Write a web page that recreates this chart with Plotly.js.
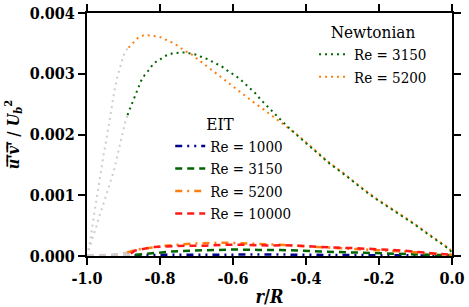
<!DOCTYPE html>
<html>
<head>
<meta charset="utf-8">
<script src="https://cdn.plot.ly/plotly-3.0.1.min.js"></script>
<style>html,body{margin:0;padding:0;background:#fff;}#chart{width:469px;height:307px;}</style>
</head>
<body>
<div id="chart"></div>
<script>
// ---- Data ----
const newt5200WallR  = [-1.0, -0.996, -0.99, -0.984, -0.978, -0.972, -0.966, -0.96, -0.954, -0.948, -0.942, -0.936, -0.93, -0.924, -0.918, -0.912, -0.906, -0.9, -0.894, -0.886];
const newt5200WallUV = [0, 0.00013, 0.00028, 0.00055, 0.00078, 0.00104, 0.00127, 0.00149, 0.00169, 0.00188, 0.0021, 0.00236, 0.00257, 0.00275, 0.00292, 0.00306, 0.00318, 0.0033, 0.00338, 0.00343];
const newt5200R  = [-0.886, -0.872, -0.859, -0.842, -0.822, -0.802, -0.784, -0.765, -0.749, -0.733, -0.714, -0.699, -0.683, -0.667, -0.65, -0.633, -0.618, -0.603, -0.586, -0.571, -0.555, -0.539, -0.522, -0.507, -0.49, -0.475, -0.457, -0.425, -0.396, -0.366, -0.335, -0.301, -0.27, -0.238, -0.206, -0.172, -0.139, -0.105, -0.073, -0.041, -0.007, 0];
const newt5200UV = [0.00343, 0.00352, 0.0036, 0.00364, 0.00363, 0.00361, 0.00356, 0.00351, 0.00345, 0.00338, 0.00332, 0.00325, 0.00318, 0.0031, 0.00302, 0.00295, 0.00288, 0.00281, 0.00273, 0.00266, 0.00259, 0.00251, 0.00244, 0.00237, 0.0023, 0.00222, 0.00215, 0.002, 0.00185, 0.00169, 0.00153, 0.00138, 0.00123, 0.00108, 0.00094, 0.00081, 0.00068, 0.00054, 0.0004, 0.00027, 0.00012, 0.00006];
const newt3150WallR  = [-1.0, -0.994, -0.987, -0.982, -0.975, -0.971, -0.964, -0.957, -0.951, -0.944, -0.934, -0.927, -0.918, -0.914, -0.909, -0.905, -0.9, -0.896, -0.889];
const newt3150WallUV = [0, 0.00013, 0.00024, 0.00035, 0.00047, 0.00057, 0.0007, 0.00082, 0.00093, 0.00105, 0.00125, 0.00139, 0.00161, 0.00174, 0.00185, 0.00197, 0.00208, 0.00219, 0.00232];
const newt3150R  = [-0.889, -0.881, -0.874, -0.866, -0.86, -0.852, -0.842, -0.829, -0.818, -0.799, -0.783, -0.764, -0.744, -0.731, -0.705, -0.687, -0.67, -0.651, -0.633, -0.617, -0.598, -0.582, -0.568, -0.553, -0.539, -0.525, -0.512, -0.498, -0.484, -0.47, -0.454, -0.425, -0.396, -0.366, -0.335, -0.301, -0.27, -0.238, -0.206, -0.172, -0.139, -0.105, -0.073, -0.041, -0.007, 0];
const newt3150UV = [0.00232, 0.00243, 0.00255, 0.00267, 0.00277, 0.00288, 0.00298, 0.00307, 0.00317, 0.00324, 0.0033, 0.00334, 0.00335, 0.00335, 0.00332, 0.00328, 0.00324, 0.00318, 0.00313, 0.00306, 0.00299, 0.00292, 0.00284, 0.00276, 0.00268, 0.00258, 0.0025, 0.00242, 0.00233, 0.00225, 0.00215, 0.00199, 0.00184, 0.00168, 0.00152, 0.00137, 0.00122, 0.00107, 0.00093, 0.0008, 0.00067, 0.00053, 0.00039, 0.00026, 0.00011, 0.00005];
const eit1000WallR  = [-1.0, -0.95, -0.9, -0.87];
const eit1000WallUV = [0, 0.000003, 0.000006, 0.00001];
const eit1000R  = [-0.87, -0.8, -0.7, -0.6, -0.5, -0.4, -0.3, -0.2, -0.1, 0];
const eit1000UV = [0.00001, 0.00002, 0.00002, 0.000025, 0.000025, 0.00002, 0.00002, 0.000015, 0.00001, 0.000005];
const eit3150WallR  = [-1.0, -0.95, -0.9, -0.868];
const eit3150WallUV = [0, 0.000005, 0.00001, 0.00002];
const eit3150R  = [-0.868, -0.822, -0.767, -0.712, -0.658, -0.594, -0.53, -0.47, -0.36, -0.297, -0.224, -0.151, -0.087, 0];
const eit3150UV = [0.00002, 0.00005, 0.000074, 0.00009, 0.0001, 0.000107, 0.0001, 0.0001, 0.000074, 0.000063, 0.00005, 0.000036, 0.00003, 0.00001];
const eit5200WallR  = [-1.0, -0.95, -0.91, -0.89];
const eit5200WallUV = [0, 0.00001, 0.00003, 0.00006];
const eit5200R  = [-0.89, -0.859, -0.831, -0.785, -0.74, -0.694, -0.621, -0.566, -0.493, -0.45, -0.407, -0.361, -0.315, -0.251, -0.196, -0.133, -0.068, 0];
const eit5200UV = [0.00006, 0.00011, 0.00013, 0.00017, 0.00019, 0.00021, 0.00022, 0.00021, 0.00019, 0.00018, 0.00016, 0.000145, 0.000135, 0.00012, 0.00009, 0.000074, 0.000046, 0.00002];
const eit10000WallR  = [-1.0, -0.95, -0.9, -0.88];
const eit10000WallUV = [0, 0.00001, 0.00002, 0.00004];
const eit10000R  = [-0.88, -0.868, -0.822, -0.785, -0.73, -0.676, -0.621, -0.566, -0.494, -0.46, -0.397, -0.33, -0.27, -0.224, -0.133, -0.05, 0];
const eit10000UV = [0.00004, 0.00009, 0.000145, 0.00016, 0.00017, 0.00017, 0.000185, 0.000185, 0.00017, 0.00018, 0.000157, 0.00014, 0.00013, 0.00012, 0.00009, 0.00004, 0.00002];

const newtLabels = ['Re = 3150', 'Re = 5200'];
const eitLabels  = ['Re = 1000', 'Re = 3150', 'Re = 5200', 'Re = 10000'];
const xTickVals  = [-1.0, -0.8, -0.6, -0.4, -0.2, 0.0];
const xTickText  = ['-1.0', '-0.8', '-0.6', '-0.4', '-0.2', '0.0'];
const yTickVals  = [0, 0.001, 0.002, 0.003, 0.004];

const GREY = '#d2cbcb';
const DOT = '2px,4px';
const serif = 'DejaVu Serif Condensed, DejaVu Serif';
const OL = '\u0305'; // combining overline

function wall(x, y, w, dash) {
  return {x: x, y: y, type: 'scatter', mode: 'lines', showlegend: false, hoverinfo: 'skip',
          line: {color: GREY, width: w, dash: dash}};
}

const traces = [
  wall(newt3150WallR, newt3150WallUV, 2, DOT),
  wall(newt5200WallR, newt5200WallUV, 2, DOT),
  wall(eit1000WallR, eit1000WallUV, 2.5, '7px,5px'),
  wall(eit3150WallR, eit3150WallUV, 2.5, '7px,5px'),
  wall(eit5200WallR, eit5200WallUV, 2.5, '7px,5px'),
  wall(eit10000WallR, eit10000WallUV, 2.5, '7px,5px'),
  {x: eit1000R, y: eit1000UV, name: eitLabels[0], legend: 'legend2', type: 'scatter', mode: 'lines',
   line: {color: '#00008b', width: 2.5, dash: '7px,5px,2px,5px,2px,5px'}},
  {x: eit3150R, y: eit3150UV, name: eitLabels[1], legend: 'legend2', type: 'scatter', mode: 'lines',
   line: {color: '#006400', width: 2.5, dash: '7px,5px'}},
  {x: eit5200R, y: eit5200UV, name: eitLabels[2], legend: 'legend2', type: 'scatter', mode: 'lines',
   line: {color: '#ff7f0e', width: 2.5, dash: '7px,5px,2px,5px'}},
  {x: eit10000R, y: eit10000UV, name: eitLabels[3], legend: 'legend2', type: 'scatter', mode: 'lines',
   line: {color: '#ff1a1a', width: 2.5, dash: '7px,5px'}},
  {x: newt5200R, y: newt5200UV, name: newtLabels[1], legend: 'legend', legendrank: 2, type: 'scatter', mode: 'lines',
   line: {color: '#ff7f0e', width: 2, dash: DOT}},
  {x: newt3150R, y: newt3150UV, name: newtLabels[0], legend: 'legend', legendrank: 1, type: 'scatter', mode: 'lines',
   line: {color: '#006400', width: 2, dash: DOT}}
];

const axisCommon = {
  showgrid: false, zeroline: false, showline: true, linecolor: '#000', linewidth: 2,
  mirror: 'ticks', ticks: 'outside', ticklen: 7, tickwidth: 2, tickcolor: '#000',
  tickfont: {family: serif, size: 16, color: '#000', weight: 'bold'}
};

const layout = {
  width: 469, height: 307,
  margin: {l: 87, r: 17, t: 13, b: 51},
  paper_bgcolor: '#fff', plot_bgcolor: '#fff',
  font: {family: serif, color: '#000'},
  showlegend: true,
  xaxis: Object.assign({}, axisCommon, {
    range: [-1, 0], tickvals: xTickVals, ticktext: xTickText,
    title: {text: '<b><i>r</i>/<i>R</i></b>', font: {family: serif, size: 18, color: '#000'}, standoff: 3}
  }),
  yaxis: Object.assign({}, axisCommon, {
    range: [0, 0.004], tickvals: yTickVals, tickformat: '.3f',
    title: {text: '<b><i>u' + OL + "'" + OL + 'v' + OL + "'" + OL + '</i> / <i>U</i><sub><i>b</i></sub><sup>2</sup></b>',
            font: {family: serif, size: 16, color: '#000'}, standoff: 6}
  }),
  legend: {
    x: 0.622, xanchor: 'left', y: 0.988, yanchor: 'top', bgcolor: 'rgba(0,0,0,0)',
    font: {family: serif, size: 15, color: '#000'},
    title: {text: 'Newtonian', side: 'top center', font: {family: serif, size: 17, color: '#000'}},
    traceorder: 'normal'
  },
  legend2: {
    x: 0.228, xanchor: 'left', y: 0.611, yanchor: 'top', bgcolor: 'rgba(0,0,0,0)',
    font: {family: serif, size: 15, color: '#000'},
    title: {text: '\u00a0\u00a0\u00a0\u00a0\u00a0\u00a0\u00a0EIT', side: 'top', font: {family: serif, size: 17, color: '#000'}},
    traceorder: 'normal'
  }
};

Plotly.newPlot('chart', traces, layout, {staticPlot: true, displayModeBar: false});
</script>
</body>
</html>
